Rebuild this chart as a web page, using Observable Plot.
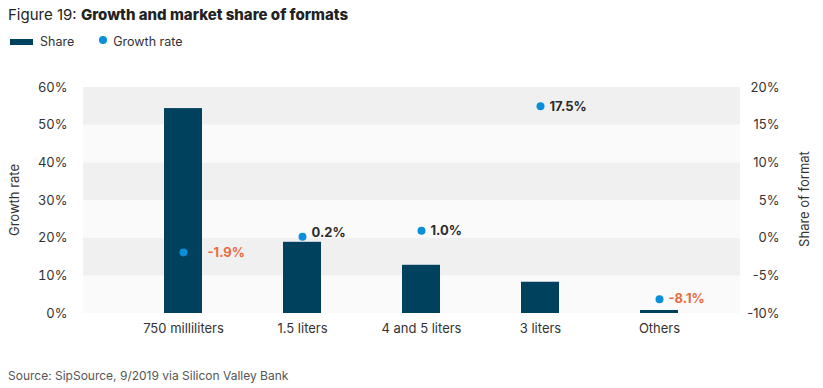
<!DOCTYPE html>
<html><head><meta charset="utf-8">
<script src="https://cdn.jsdelivr.net/npm/d3@7"></script>
<script src="https://cdn.jsdelivr.net/npm/@observablehq/plot@0.6"></script>
<style>
body{margin:0;background:#fff;font-family:Inter,"Noto Sans",sans-serif;color:#222;}
#wrap{position:relative;width:823px;height:388px;overflow:hidden;}
#title{position:absolute;left:8px;top:5px;font-size:15px;color:#222;white-space:nowrap;}
#title b{font-weight:800;}
#legend{position:absolute;left:10px;top:34px;font-size:12.5px;color:#333;white-space:nowrap;}
#legend .sw{display:inline-block;width:23px;height:6px;background:#00425e;vertical-align:middle;margin-right:7px;position:relative;top:-1px;}
#legend .dot{display:inline-block;width:8px;height:8px;border-radius:50%;background:#0a8fd8;vertical-align:middle;margin-left:25px;margin-right:6px;position:relative;top:-3px;}
#chart{position:absolute;left:0;top:60px;}
.ylab{position:absolute;font-size:13px;color:#333;white-space:nowrap;transform:translate(-50%,-50%) rotate(-90deg);}
#source{position:absolute;left:8px;top:368px;font-size:12px;color:#555;white-space:nowrap;}
</style></head><body>
<div id="wrap">
  <div id="title"><span>Figure 19: </span><b>Growth and market share of formats</b></div>
  <div id="legend"><span class="sw"></span>Share<span class="dot"></span>Growth rate</div>
  <div id="chart"></div>
  <div class="ylab" style="left:14px;top:200px;">Growth rate</div>
  <div class="ylab" style="left:804px;top:199px;">Share of format</div>
  <div id="source">Source: SipSource, 9/2019 via Silicon Valley Bank</div>
</div>
<script>
const categories = ["750 milliliters", "1.5 liters", "4 and 5 liters", "3 liters", "Others"];
const shareValues = [54.4, 18.9, 12.8, 8.3, 0.8];
const growthValues = [-1.9, 0.2, 1.0, 17.5, -8.1];
const leftTicks = [0, 10, 20, 30, 40, 50, 60];
const rightTicks = [-10, -5, 0, 5, 10, 15, 20];

// map growth (right axis, -10..20) onto share scale (0..60)
const toShare = g => (g + 10) * 2;

const rows = categories.map((c, i) => ({cat: c, share: shareValues[i], growth: growthValues[i], gy: toShare(growthValues[i])}));
const bands = leftTicks.slice(0, -1).map((t, i) => ({y1: t, y2: leftTicks[i + 1], dark: i % 2 === 1}));
const inside = rows.filter(d => d.gy < d.share);
const near = rows.filter(d => d.gy >= d.share && d.gy - d.share < 2);
const clear = rows.filter(d => d.gy - d.share >= 2);
const fmt = v => v.toFixed(1) + "%";
const labelFill = d => d.growth < 0 ? "#ec6a3e" : "#2b2b2b";

const chart = Plot.plot({
  width: 823,
  height: 290,
  marginLeft: 83,
  marginRight: 83,
  marginTop: 27,
  marginBottom: 37,
  style: {fontFamily: "Inter, 'Noto Sans', sans-serif", fontSize: "13px", color: "#333", background: "transparent"},
  x: {domain: categories, paddingInner: 0.68, paddingOuter: 0.6, align: 0.566, label: null},
  y: {domain: [0, 60], label: null},
  marks: [
    Plot.rect(bands, {y1: "y1", y2: "y2", fill: d => d.dark ? "#f0f0f0" : "#fafafa"}),
    Plot.axisY({ticks: leftTicks, tickSize: 0, tickPadding: 16, tickFormat: d => d + "%", label: null, fontSize: 13}),
    Plot.text(rightTicks, {y: d => toShare(d), frameAnchor: "right", text: d => d + "%", textAnchor: "end", dx: 39, fill: "#333", fontSize: 13}),
    Plot.axisX({tickSize: 0, tickPadding: 10, label: null, fontSize: 13}),
    Plot.barY(rows, {x: "cat", y: "share", fill: "#00425e"}),
    Plot.dot(rows, {x: "cat", y: "gy", r: 4, fill: "#0a8fd8"}),
    Plot.text(clear, {x: "cat", y: "gy", text: d => fmt(d.growth), textAnchor: "start", dx: 9, fontWeight: "bold", fontSize: 13, fill: labelFill}),
    Plot.text(near, {x: "cat", y: "gy", text: d => fmt(d.growth), textAnchor: "start", dx: 9, dy: -4, fontWeight: "bold", fontSize: 13, fill: labelFill}),
    Plot.text(inside, {x: "cat", y: "gy", text: d => fmt(d.growth), textAnchor: "start", dx: 24, fontWeight: "bold", fontSize: 13, fill: labelFill})
  ]
});
document.getElementById("chart").appendChild(chart);
</script>
</body></html>
